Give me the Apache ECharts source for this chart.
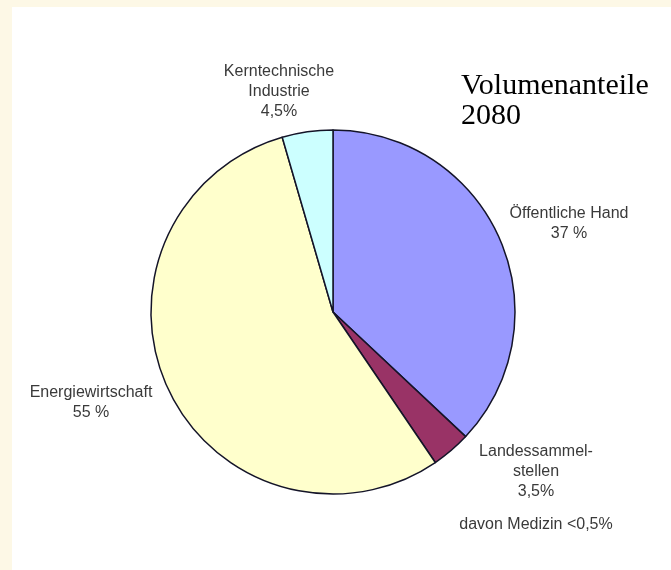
<!DOCTYPE html>
<html>
<head>
<meta charset="utf-8">
<script src="https://cdn.jsdelivr.net/npm/echarts@6/dist/echarts.min.js"></script>
<style>
  html, body { margin: 0; padding: 0; background: #fdf8e6; }
  #chart { width: 671px; height: 570px; }
</style>
</head>
<body>
<div id="chart"></div>
<script>
  // Volumenanteile 2080
  const categories = ['Öffentliche Hand', 'Landessammel-\nstellen', 'Energiewirtschaft', 'Kerntechnische\nIndustrie']
  const values = [37, 3.5, 55, 4.5]
  const valueLabels = ['37 %', '3,5%', '55 %', '4,5%']
  const colors = ['#9999ff', '#993366', '#ffffcc', '#ccffff']
  const note = 'davon Medizin <0,5%'

  // label anchors (top centre of each label block)
  const labelPos = [
    { x: 569, y: 204 },
    { x: 536, y: 442 },
    { x: 91, y: 383 },
    { x: 279, y: 62 }
  ]

  const chart = echarts.init(document.getElementById('chart'))

  chart.setOption({
    animation: false,
    backgroundColor: '#fdf8e6',
    title: {
      text: 'Volumenanteile\n2080',
      left: 456,
      top: 66,
      textStyle: {
        fontFamily: 'Liberation Serif',
        fontWeight: 'normal',
        fontSize: 30,
        lineHeight: 30,
        color: '#000'
      }
    },
    graphic: [{
      type: 'rect',
      z: -10,
      shape: { x: 12, y: 7, width: 671, height: 570 },
      style: { fill: '#fff' },
      silent: true
    }],
    series: [{
      type: 'pie',
      center: [333, 312],
      radius: 182,
      startAngle: 90,
      clockwise: true,
      emphasis: { disabled: true },
      itemStyle: {
        borderColor: '#141428',
        borderWidth: 1.5
      },
      labelLine: { show: false },
      label: {
        show: true,
        position: 'outside',
        overflow: 'none',
        fontFamily: 'Liberation Sans',
        fontSize: 16,
        lineHeight: 20,
        color: '#3a3a3a',
        align: 'center',
        formatter: (p) => {
          let s = categories[p.dataIndex] + '\n' + valueLabels[p.dataIndex]
          if (p.dataIndex === 1) {
            s += '\n{n|' + note + '}'
          }
          return s
        },
        rich: {
          n: {
            fontFamily: 'Liberation Sans',
            fontSize: 16,
            lineHeight: 46,
            verticalAlign: 'middle',
            color: '#3a3a3a'
          }
        }
      },
      labelLayout: (p) => {
        const pos = labelPos[p.dataIndex]
        return { x: pos.x, y: pos.y, align: 'center', verticalAlign: 'top' }
      },
      data: values.map((v, i) => ({
        name: categories[i],
        value: v,
        itemStyle: { color: colors[i] }
      }))
    }]
  })
</script>
</body>
</html>
